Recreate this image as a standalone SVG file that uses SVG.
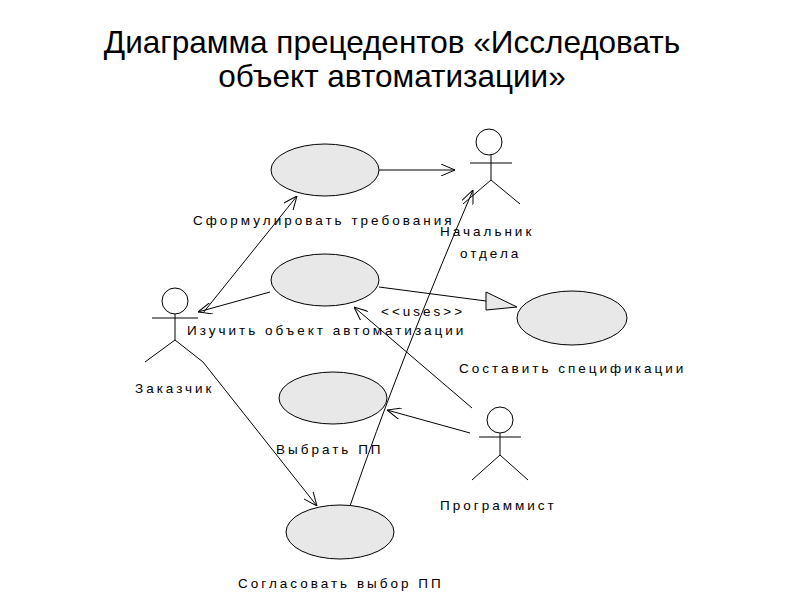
<svg xmlns="http://www.w3.org/2000/svg" width="800" height="600" viewBox="0 0 800 600">
<defs>
<style>
.uc{fill:#e8e8e8;stroke:#000;stroke-width:1}
.a{fill:none;stroke:#000;stroke-width:1}
.l{font-family:"Liberation Sans",Arial,sans-serif;font-size:13.5px;letter-spacing:3px;fill:#000}
.t{font-family:"Liberation Sans",Arial,sans-serif;font-size:31.5px;fill:#000;text-anchor:middle}
</style>
<marker id="o" viewBox="0 0 14 12" refX="14" refY="6" markerWidth="14" markerHeight="12" markerUnits="userSpaceOnUse" orient="auto"><path d="M0,0 L14,6 L0,12" fill="none" stroke="#000"/></marker>
</defs>
<rect width="800" height="600" fill="#fff"/>
<text class="t" x="392" y="53">Диаграмма прецедентов «Исследовать</text>
<text class="t" x="392" y="87">объект автоматизации»</text>
<g id="connectors">
<path class="a" d="M379,170 L455,170" marker-end="url(#o)"/>
<path class="a" d="M203,313 L297,196" marker-end="url(#o)"/>
<path class="a" d="M270,292 L198,312" marker-end="url(#o)"/>
<path class="a" d="M379,287 L486,301"/>
<path d="M486,292 L517,307 L486,310 Z" fill="#e8e8e8" stroke="#000"/>
<path class="a" d="M472,408 L354,307" marker-end="url(#o)"/>
<path class="a" d="M470,433 L387,410" marker-end="url(#o)"/>
<path class="a" d="M203,362 L317,506" marker-end="url(#o)"/>
<path class="a" d="M350,506 Q400,360 473,190" marker-end="url(#o)"/>
</g>
<g id="uc1"><ellipse class="uc" cx="325" cy="170" rx="54" ry="26"/><text class="l" x="193" y="225">Сформулировать требования</text></g>
<g id="uc2"><ellipse class="uc" cx="325" cy="280" rx="54" ry="26"/><text class="l" x="187" y="335">Изучить объект автоматизации</text></g>
<g id="uc3"><ellipse class="uc" cx="572" cy="318" rx="55" ry="27"/><text class="l" x="459" y="373">Составить спецификации</text></g>
<g id="uc4"><ellipse class="uc" cx="333" cy="398" rx="54" ry="26"/><text class="l" x="276" y="454">Выбрать ПП</text></g>
<g id="uc5"><ellipse class="uc" cx="340" cy="532" rx="54" ry="27"/><text class="l" x="238" y="588">Согласовать выбор ПП</text></g>
<text class="l" x="381" y="316">&lt;&lt;uses&gt;&gt;</text>
<g id="actor-boss" class="a"><circle cx="489" cy="142" r="13" fill="#fff"/><path d="M470,163 H512 M491,155 V180 L463,204 M491,180 L520,204"/><text class="l" stroke="none" x="440" y="236">Начальник</text><text class="l" stroke="none" x="460" y="258">отдела</text></g>
<g id="actor-customer" class="a"><circle cx="175" cy="301" r="13" fill="#fff"/><path d="M152,318 H198 M175,314 V340 L145,362 M175,340 L203,362"/><text class="l" stroke="none" x="135" y="393">Заказчик</text></g>
<g id="actor-prog" class="a"><circle cx="500" cy="420" r="13" fill="#fff"/><path d="M479,437 H521 M500,433 V455 L472,480 M500,455 L528,480"/><text class="l" stroke="none" x="440" y="510">Программист</text></g>
</svg>
